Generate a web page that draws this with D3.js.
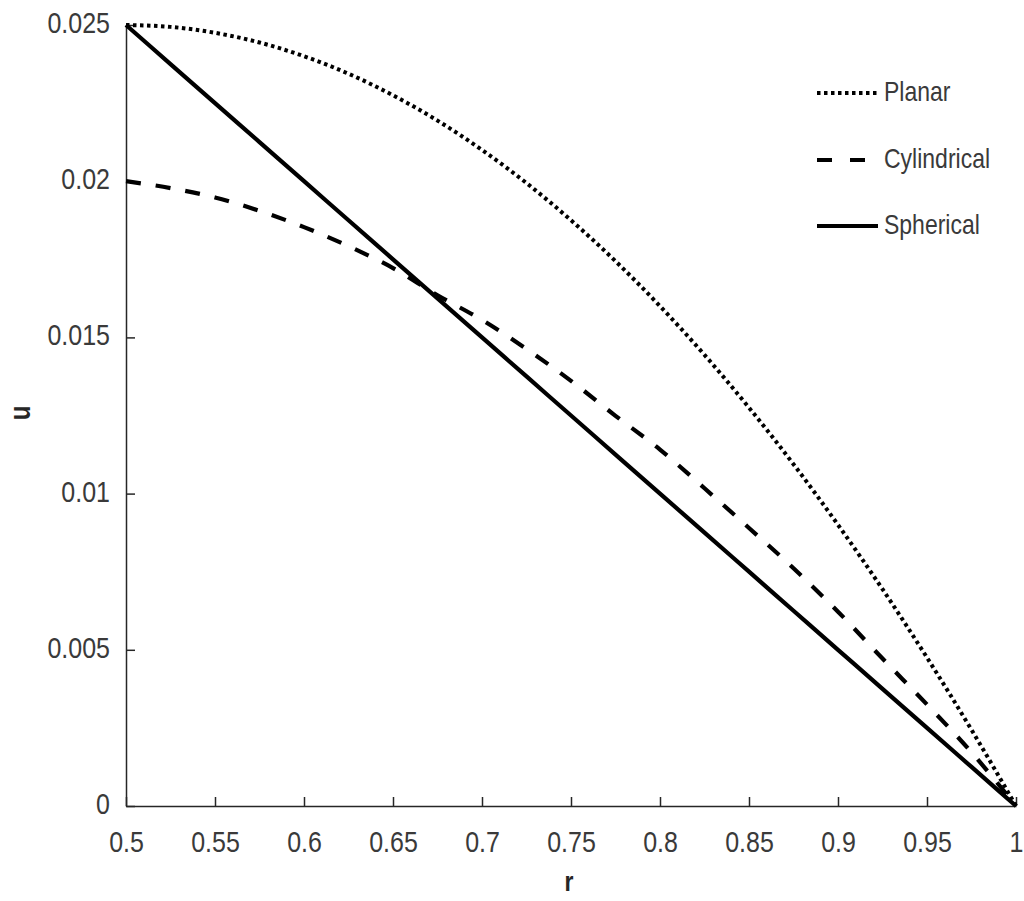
<!DOCTYPE html>
<html>
<head>
<meta charset="utf-8">
<script src="https://cdn.jsdelivr.net/npm/d3@7"></script>
<style>
  html, body { margin: 0; padding: 0; background: #fff; }
  svg text { font-family: "Liberation Sans", Arial, sans-serif; }
</style>
</head>
<body>
<svg id="chart" width="1024" height="901"></svg>
<script>
// ---- data ----
const rValues = [0.5, 0.525, 0.55, 0.575, 0.6, 0.625, 0.65, 0.675, 0.7, 0.725, 0.75,
                 0.775, 0.8, 0.825, 0.85, 0.875, 0.9, 0.925, 0.95, 0.975, 1.0];
const planar = [0.02500, 0.02494, 0.02475, 0.02444, 0.02400, 0.02344, 0.02275, 0.02194,
                0.02100, 0.01994, 0.01875, 0.01744, 0.01600, 0.01444, 0.01275, 0.01094,
                0.00900, 0.00694, 0.00475, 0.00244, 0.0];
const cylindrical = [0.02000, 0.01978, 0.01948, 0.01905, 0.01853, 0.01792, 0.01722, 0.01635,
                     0.01556, 0.01463, 0.01361, 0.01249, 0.01141, 0.01017, 0.00890, 0.00761,
                     0.00622, 0.00472, 0.00325, 0.00172, 0.0];
const spherical = [0.02500, 0.02375, 0.02250, 0.02125, 0.02000, 0.01875, 0.01750, 0.01625,
                   0.01500, 0.01375, 0.01250, 0.01125, 0.01000, 0.00875, 0.00750, 0.00625,
                   0.00500, 0.00375, 0.00250, 0.00125, 0.0];
const xTicks = [0.5, 0.55, 0.6, 0.65, 0.7, 0.75, 0.8, 0.85, 0.9, 0.95, 1];
const yTicks = [0, 0.005, 0.01, 0.015, 0.02, 0.025];
const seriesNames = ["Planar", "Cylindrical", "Spherical"];

// ---- layout ----
const svg = d3.select("#chart");
const mLeft = 126, mRight = 1016, mTop = 25, mBottom = 806;
const axisColor = "#262626";
const textColor = "#3a3a3a";
const stretch = 1.2;

const x = d3.scaleLinear().domain([0.5, 1]).range([mLeft, mRight]);
const y = d3.scaleLinear().domain([0, 0.025]).range([mBottom, mTop]);

svg.append("rect").attr("width", 1024).attr("height", 901).attr("fill", "#fff");

// axes
const xAxis = svg.append("g").attr("transform", `translate(0,${mBottom})`)
  .call(d3.axisBottom(x).tickValues(xTicks).tickSizeInner(-9).tickSizeOuter(0)
        .tickFormat(d => String(d)));
const yAxis = svg.append("g").attr("transform", `translate(${mLeft},0)`)
  .call(d3.axisLeft(y).tickValues(yTicks).tickSizeInner(-9).tickSizeOuter(0)
        .tickFormat(d => String(d)));

[xAxis, yAxis].forEach(g => {
  g.select(".domain").attr("stroke", axisColor).attr("stroke-width", 1.5);
  g.selectAll(".tick line").attr("stroke", axisColor).attr("stroke-width", 1.5);
  g.selectAll(".tick text").attr("fill", textColor).attr("font-size", 25)
    .attr("font-family", "Liberation Sans, Arial, sans-serif");
});
xAxis.selectAll(".tick text").attr("dy", null).attr("y", 0)
  .attr("transform", `translate(0,46) scale(1,${stretch})`);
yAxis.selectAll(".tick text").attr("x", 0).attr("dy", null).attr("y", 0)
  .attr("transform", `translate(-16,7.5) scale(1,${stretch})`);

// axis labels
svg.append("text").attr("transform", `translate(569,891) scale(1,${stretch})`)
  .attr("text-anchor", "middle")
  .attr("font-size", 23).attr("font-weight", "bold").attr("fill", "#262626").text("r");
svg.append("text").attr("transform", `translate(30,413) rotate(-90) scale(1,${stretch})`)
  .attr("text-anchor", "middle").attr("font-size", 24).attr("font-weight", "bold")
  .attr("fill", "#262626").text("u");

// lines
const styles = [
  { data: planar, dash: "3.5,3.5", width: 4 },
  { data: cylindrical, dash: "15,15", width: 4.2 },
  { data: spherical, dash: null, width: 4.2 }
];
const line = d3.line().x(d => x(d[0])).y(d => y(d[1])).curve(d3.curveMonotoneX);
styles.forEach(s => {
  svg.append("path")
    .datum(rValues.map((r, i) => [r, s.data[i]]))
    .attr("d", line)
    .attr("fill", "none")
    .attr("stroke", "#000")
    .attr("stroke-width", s.width)
    .attr("stroke-dasharray", s.dash);
});

// legend
const legendY = [93, 160, 226];
seriesNames.forEach((name, i) => {
  const s = styles[i];
  svg.append("line").attr("x1", 817).attr("x2", 878)
    .attr("y1", legendY[i]).attr("y2", legendY[i])
    .attr("stroke", "#000").attr("stroke-width", s.width)
    .attr("stroke-dasharray", i === 1 ? "15,18" : s.dash);
  svg.append("text").attr("transform", `translate(884,${legendY[i] + 8}) scale(1,${stretch})`)
    .attr("font-size", 23).attr("fill", textColor).text(name);
});
</script>
</body>
</html>
